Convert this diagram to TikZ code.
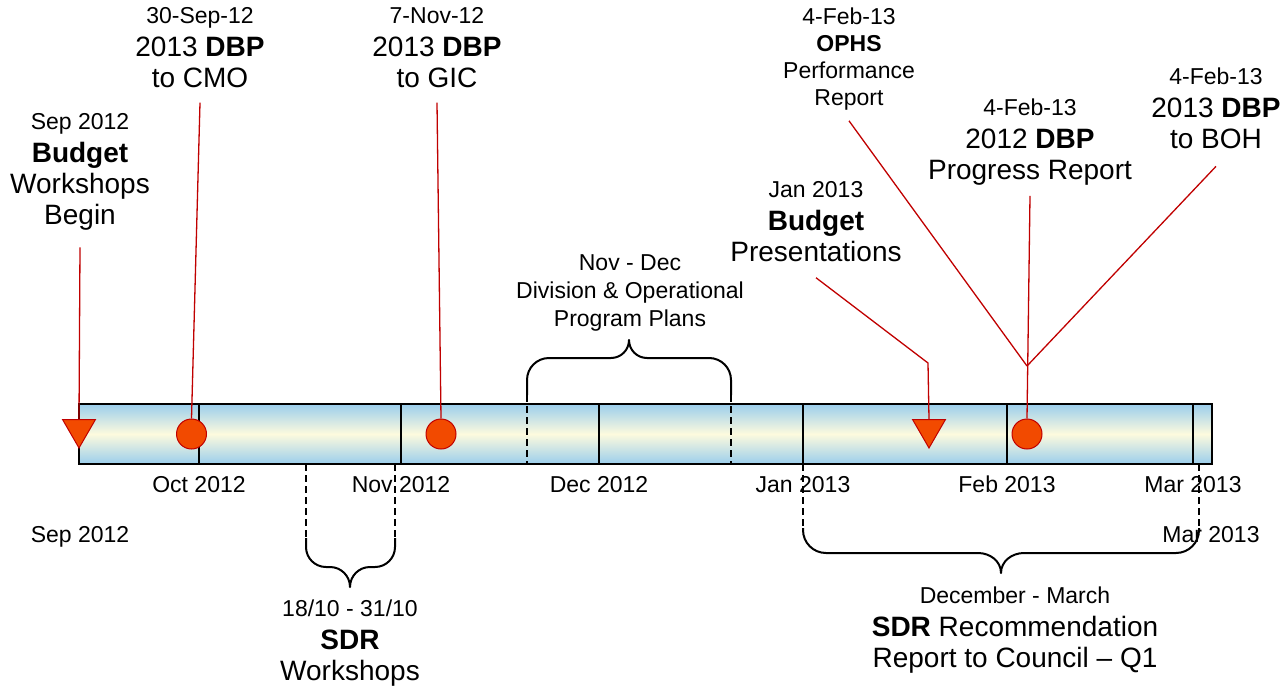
\documentclass[tikz,border=0pt]{standalone}
\usepackage{fontspec}
\setmainfont{Liberation Sans}
\usetikzlibrary{shapes.geometric}

\definecolor{barblue}{RGB}{155,206,236}
\definecolor{barcream}{RGB}{253,250,222}
\definecolor{markfill}{RGB}{242,74,0}
\definecolor{markline}{RGB}{192,0,0}

\newcommand{\lrg}{\fontsize{28}{31}\selectfont}

\tikzset{
    txt/.style={
        align=center,
        inner sep=0pt,
        anchor=north,
        font=\fontsize{23}{31}\selectfont
    },
    evcirc/.style={
        draw=markline,
        circle,
        fill=markfill,
        minimum size=30pt,
        inner sep=0pt,
        line width=1pt
    },
    evtri/.style={
        draw=markline,
        regular polygon,
        regular polygon sides=3,
        shape border rotate=180,
        fill=markfill,
        minimum size=38pt,
        inner sep=0pt,
        line width=1pt
    },
    callout/.style={
        draw=markline,
        line width=1.3pt
    },
    bracelines/.style={
        draw,
        line width=2pt,
        line join=round
    },
    dashguide/.style={
        draw,
        line width=1.3pt,
        dash pattern=on 7pt off 4pt
    }
}

\begin{document}
\begin{tikzpicture}[x=1pt, y=-1pt]
    \useasboundingbox (0,0) rectangle (1287,685);

    % timeline bar
    \shade[top color=barblue, bottom color=barblue, middle color=barcream] (79,404) rectangle (1212,464);
    \draw[line width=1.8pt] (79,404) rectangle (1212,464);
    \foreach \x/\m in {199/Oct 2012, 401/Nov 2012, 599/Dec 2012, 803/Jan 2013, 1007/Feb 2013, 1193/Mar 2013} {
        \draw[line width=1.5pt] (\x,404) -- (\x,464);
        \node[txt] (m-\x) at (\x,476) {\m};
    }
    \node[txt] (start) at (80,526) {Sep 2012};
    \node[txt] (end) at (1211,526) {Mar 2013};

    % dashed guides
    \draw[dashguide] (527,395) -- (527,464);
    \draw[dashguide] (731,395) -- (731,464);
    \draw[dashguide] (306,464) -- (306,538);
    \draw[dashguide] (395,464) -- (395,538);
    \draw[dashguide] (803,464) -- (803,528);
    \draw[dashguide] (1199,464) -- (1199,528);

    % braces
    \draw[bracelines] (527,395) -- (527,380) to[out=90,in=180] (549,358) -- (611,358) to[out=0,in=-90] (629,340)
        to[out=-90,in=180] (647,358) -- (709,358) to[out=0,in=90] (731,380) -- (731,395);
    \draw[bracelines] (306,538) -- (306,547) to[out=-90,in=180] (326,567) -- (330,567) to[out=0,in=90] (350,587)
        to[out=90,in=180] (370,567) -- (375,567) to[out=0,in=-90] (395,547) -- (395,538);
    \draw[bracelines] (803,528) -- (803,530) to[out=-90,in=180] (826,553) -- (978,553) to[out=0,in=90] (1001,573)
        to[out=90,in=180] (1024,553) -- (1176,553) to[out=0,in=-90] (1199,530) -- (1199,528);

    % labels
    \node[txt] (bw) at (80,113) {Sep 2012\\[2pt] \lrg\textbf{Budget}\\ \lrg Workshops\\ \lrg Begin};
    \node[txt] (cmo) at (200,7) {30-Sep-12\\[2pt] \lrg 2013 \textbf{DBP}\\ \lrg to CMO};
    \node[txt] (gic) at (437,7) {7-Nov-12\\[2pt] \lrg 2013 \textbf{DBP}\\ \lrg to GIC};
    \node[txt, font=\fontsize{23}{27}\selectfont] (ophs) at (849,8) {4-Feb-13\\ \textbf{OPHS}\\ Performance\\ Report};
    \node[txt] (prog) at (1030,99) {4-Feb-13\\[2pt] \lrg 2012 \textbf{DBP}\\ \lrg Progress Report};
    \node[txt] (boh) at (1216,68) {4-Feb-13\\[2pt] \lrg 2013 \textbf{DBP}\\ \lrg to BOH};
    \node[txt] (bp) at (816,181) {Jan 2013\\[2pt] \lrg\textbf{Budget}\\ \lrg Presentations};
    \node[txt, font=\fontsize{23}{28}\selectfont] (nd) at (630,254) {Nov - Dec\\ Division \& Operational\\ Program Plans};
    \node[txt] (sdrw) at (350,600) {18/10 - 31/10\\[2pt] \lrg\textbf{SDR}\\ \lrg Workshops};
    \node[txt] (sdrr) at (1015,587) {December - March\\[2pt] \lrg\textbf{SDR} Recommendation\\ \lrg Report to Council – Q1};

    % events
    \node[evtri] (tri1) at (79,429) {};
    \node[evcirc] (dot1) at (191.5,434) {};
    \node[evcirc] (dot2) at (441,434) {};
    \node[evtri] (tri2) at (929,429) {};
    \node[evcirc] (dot3) at (1027,434) {};

    \coordinate (bpbend) at (928,363);
    \coordinate (hub) at (1027,366);
    \draw[callout] (bw.south) ++(0,17) -- (tri1.north);
    \draw[callout] (cmo.south) ++(0,15) -- (dot1.north);
    \draw[callout] (gic.south) ++(0,15) -- (dot2.north);
    \draw[callout] (bp.south) ++(0,16) -- (bpbend) -- (tri2.north);
    \draw[callout] (ophs.south) ++(0,10) -- (hub);
    \draw[callout] (boh.south) ++(0,17) -- (hub);
    \draw[callout] (prog.south) ++(0,10) -- (dot3.north);
\end{tikzpicture}
\end{document}
